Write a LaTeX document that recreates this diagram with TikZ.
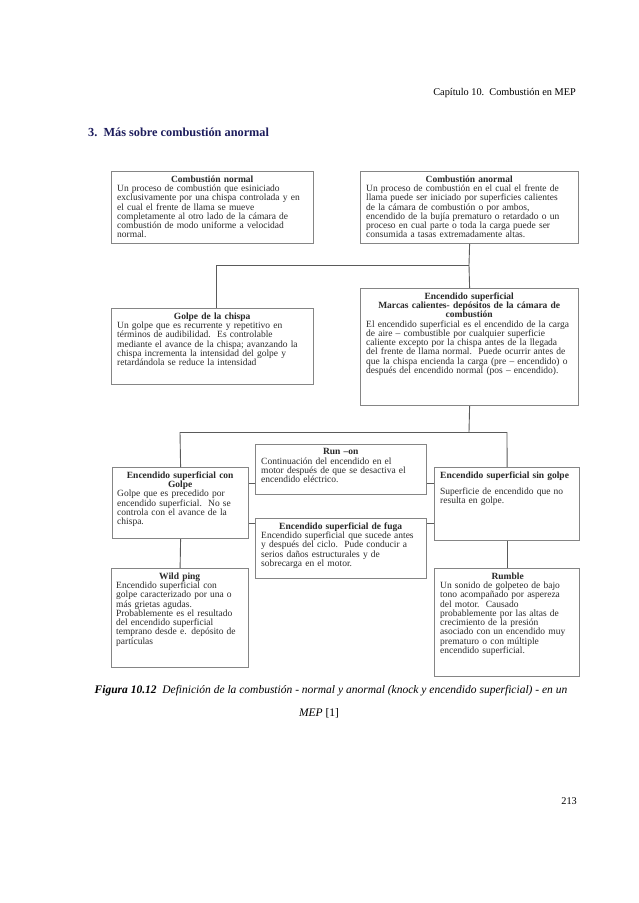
\documentclass[tikz,border=0pt]{standalone}
\usepackage{fontspec}
\setmainfont{Liberation Serif}
\definecolor{boxgray}{HTML}{858585}
\definecolor{linegray}{HTML}{5A5A5A}
\definecolor{txtc}{HTML}{2A2A2A}
\definecolor{navy}{HTML}{1C1C5C}
\newcommand\ttl[1]{{\centering\bfseries #1\par}}
\newcommand\bd{\rightskip=-40pt plus 1fil\relax}
\begin{document}
\begin{tikzpicture}[x=1pt,y=-1pt,
  box/.style={draw=boxgray, line width=1.2pt, rectangle, inner sep=0pt, anchor=north west, fill=white},
  btxt/.style={anchor=north west, inner sep=0pt, align=left, yshift=-1.5pt, font=\fontsize{9.5}{9.25}\selectfont, text=txtc},
  link/.style={draw=linegray, line width=0.9pt}]
\useasboundingbox (0,0) rectangle (638,903);
\fill[white] (0,0) rectangle (638,903);

% header texts
\node[anchor=base east, font=\fontsize{10.3}{12}\selectfont, inner sep=0pt] (hdr) at (576,95) {Capítulo 10.\ \ Combustión en MEP};
\node[anchor=base west, font=\fontsize{12.3}{14}\selectfont\bfseries, text=navy, inner sep=0pt] (sec) at (88,136) {3.\ \ Más sobre combustión anormal};

% junction coordinates
\coordinate (j1) at (469,265);
\coordinate (j2) at (216,265);
\coordinate (j3) at (469,432);
\coordinate (j4) at (180,432);
\coordinate (j5) at (507,432);

% boxes
\node[box, minimum width=202pt, minimum height=72pt] (b1) at (111,171) {};
\node[box, minimum width=218pt, minimum height=72pt] (b2) at (360,171) {};
\node[box, minimum width=202pt, minimum height=76pt] (b3) at (111,308) {};
\node[box, minimum width=218pt, minimum height=117pt] (b4) at (360,288) {};
\node[box, minimum width=136pt, minimum height=71pt] (b6) at (112,467) {};
\node[box, minimum width=145pt, minimum height=73pt] (b7) at (434,467) {};
\node[box, minimum width=137pt, minimum height=99pt] (b9) at (111,568) {};
\node[box, minimum width=145pt, minimum height=108pt] (b10) at (434,568) {};

\coordinate (h1l) at (b6.east |- 0,483);
\coordinate (h1r) at (b7.west |- 0,483);
\coordinate (h2l) at (b6.east |- 0,523);
\coordinate (h2r) at (b7.west |- 0,523);
\draw[link] (h1l) -- (h1r);
\draw[link] (h2l) -- (h2r);

\node[box, minimum width=171pt, minimum height=50pt] (b5) at (255,444) {};
\node[box, minimum width=171pt, minimum height=60pt] (b8) at (255,518) {};

% connectors
\draw[link] (b2.south) -- (j1);
\draw[link] (j1) -- (j2);
\draw[link] (j2) -- (j2 |- b3.north);
\draw[link] (j1) -- (b4.north);
\draw[link] (b4.south) -- (j3);
\draw[link] (j4) -- (j5);
\draw[link] (j4) -- (b6.north);
\draw[link] (j5) -- (b7.north);
\draw[link] (b6.south) -- (b9.north);
\draw[link] (b7.south -| j5) -- (j5 |- b10.north);

% texts
\node[btxt, text width=190pt] (t1) at (117,174) {\ttl{Combustión normal}\bd Un proceso de combustión que esiniciado\\ exclusivamente por una chispa controlada y en\\ el cual el frente de llama se mueve\\ completamente al otro lado de la cámara de\\ combustión de modo uniforme a velocidad\\ normal.};

\node[btxt, text width=206pt] (t2) at (366,174) {\ttl{Combustión anormal}\bd Un proceso de combustión en el cual el frente de\\ llama puede ser iniciado por superficies calientes\\ de la cámara de combustión o por ambos,\\ encendido de la bujía prematuro o retardado o un\\ proceso en cual parte o toda la carga puede ser\\ consumida a tasas extremadamente altas.};

\node[btxt, text width=190pt] (t3) at (117,311) {\ttl{Golpe de la chispa}\bd Un golpe que es recurrente y repetitivo en\\ términos de audibilidad.\ \ Es controlable\\ mediante el avance de la chispa; avanzando la\\ chispa incrementa la intensidad del golpe y\\ retardándola se reduce la intensidad};

\node[btxt, text width=206pt] (t4) at (366,291) {\ttl{Encendido superficial\\ Marcas calientes- depósitos de la cámara de\\ combustión}\bd El encendido superficial es el encendido de la carga\\ de aire -- combustible por cualquier superficie\\ caliente excepto por la chispa antes de la llegada\\ del frente de llama normal.\ \ Puede ocurrir antes de\\ que la chispa encienda la carga (pre -- encendido) o\\ después del encendido normal (pos -- encendido).};

\node[btxt, text width=159pt] (t5) at (261,447) {\ttl{Run --on}\bd Continuación del encendido en el\\ motor después de que se desactiva el\\ encendido eléctrico.};

\node[btxt, text width=126pt] (t6) at (117,470) {\ttl{Encendido superficial con\\ Golpe}\bd Golpe que es precedido por\\ encendido superficial.\ \ No se\\ controla con el avance de la\\ chispa.};

\node[btxt, text width=135pt] (t7) at (440,470) {\bd\textbf{Encendido superficial sin golpe}\\[7pt] Superficie de encendido que no\\ resulta en golpe.};

\node[btxt, text width=159pt] (t8) at (261,521) {\ttl{Encendido superficial de fuga}\bd Encendido superficial que sucede antes\\ y después del ciclo.\ \ Pude conducir a\\ serios daños estructurales y de\\ sobrecarga en el motor.};

\node[btxt, text width=127pt] (t9) at (116,571) {\ttl{Wild ping}\bd Encendido superficial con\\ golpe caracterizado por una o\\ más grietas agudas.\\ Probablemente es el resultado\\ del encendido superficial\\ temprano desde e. depósito de\\ partículas};

\node[btxt, text width=135pt] (t10) at (440,571) {\ttl{Rumble}\bd Un sonido de golpeteo de bajo\\ tono acompañado por aspereza\\ del motor.\ \ Causado\\ probablemente por las altas de\\ crecimiento de la presión\\ asociado con un encendido muy\\ prematuro o con múltiple\\ encendido superficial.};

% caption
\node[anchor=base, font=\fontsize{11.5}{13}\selectfont\itshape, inner sep=0pt] (cap1) at (331,693) {\textbf{Figura 10.12}\ \ Definición de la combustión - normal y anormal (knock y encendido superficial) - en un};
\node[anchor=base, font=\fontsize{11.5}{13}\selectfont\itshape, inner sep=0pt] (cap2) at (319,716) {MEP \upshape[1]};

\node[anchor=base east, font=\fontsize{10.3}{12}\selectfont, inner sep=0pt] (pg) at (577,804) {213};
\end{tikzpicture}
\end{document}
